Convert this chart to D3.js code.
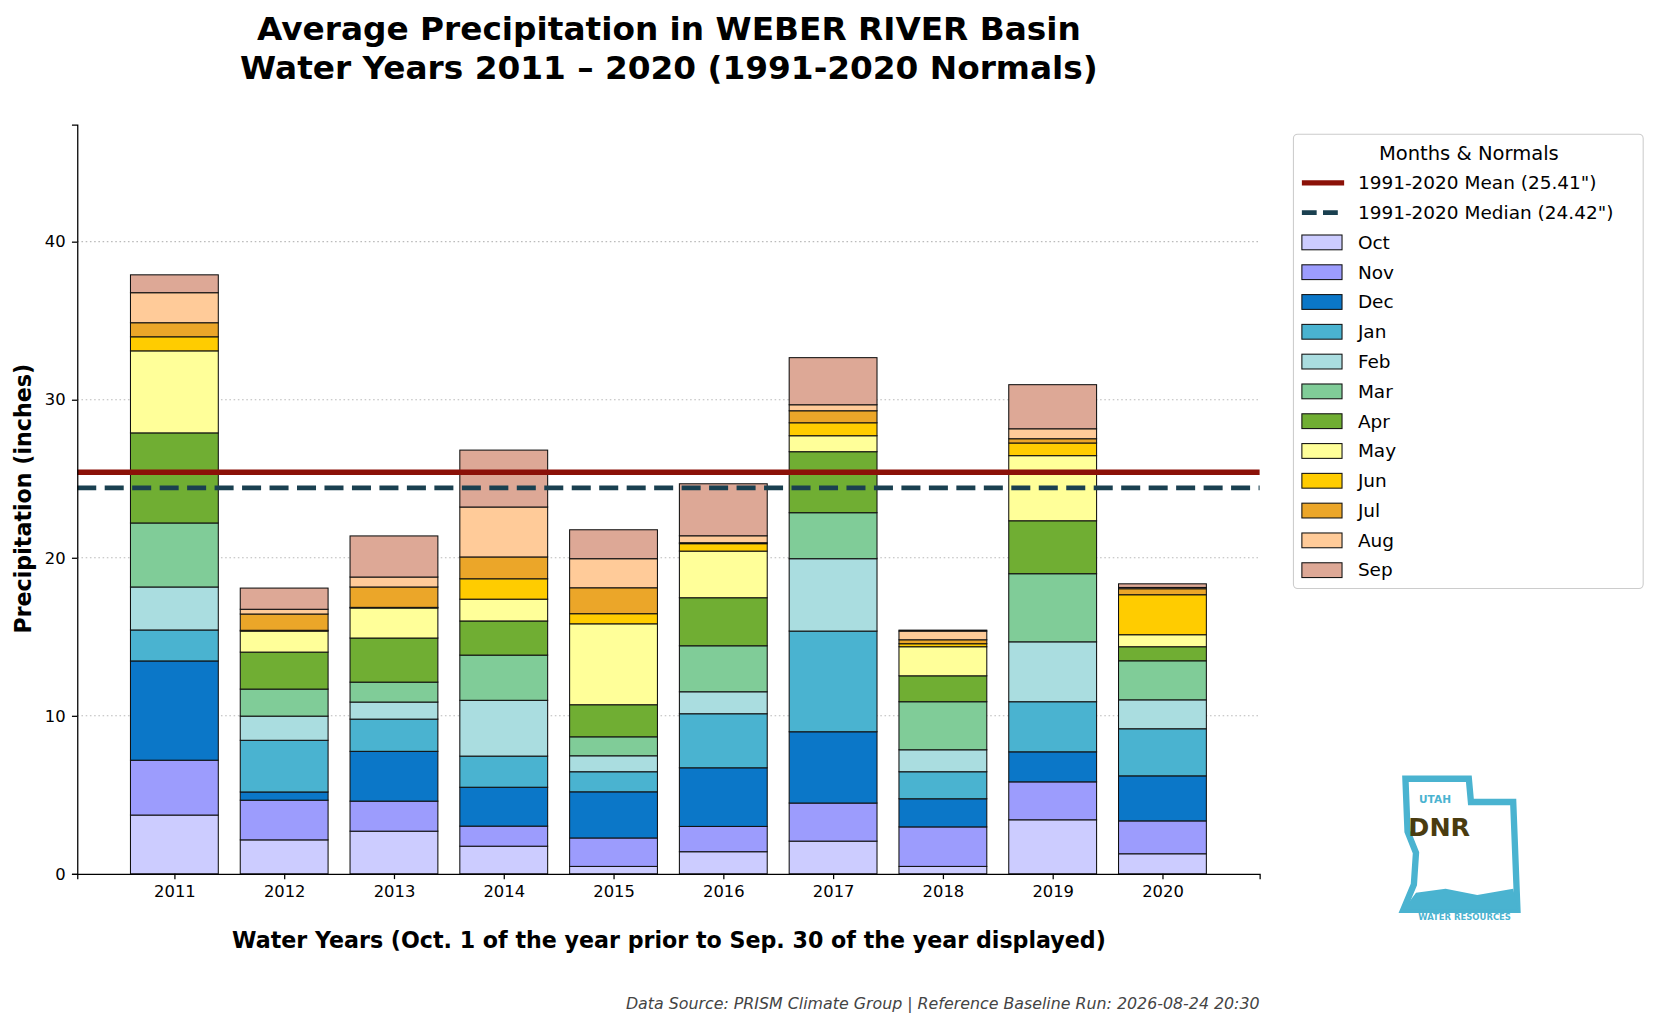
<!DOCTYPE html>
<html><head><meta charset="utf-8">
<script src="https://cdn.jsdelivr.net/npm/d3@7"></script>
<style>
body{margin:0;background:#fff;font-family:"DejaVu Sans",sans-serif;overflow:hidden;}
svg{display:block;}
</style></head>
<body><svg width="1657" height="1026" viewBox="0 0 1568 971"></svg>
<script>
const years = ['2011','2012','2013','2014','2015','2016','2017','2018','2019','2020'];
const months = ['Oct','Nov','Dec','Jan','Feb','Mar','Apr','May','Jun','Jul','Aug','Sep'];
const colors = ['#ccccff','#9c9cfd','#0b77c8','#4ab3d0','#aadde0','#80cc98','#70ae33','#ffff99','#ffcc00','#eba629','#ffcb99','#dda896'];
// monthly precipitation per year, Oct..Sep
const precip = [
  [3.72,3.47,6.28,1.96,2.72,4.05,5.7,5.19,0.89,0.89,1.9,1.13],
  [2.15,2.51,0.52,3.27,1.53,1.71,2.34,1.33,0.05,1.03,0.30,1.34],
  [2.7,1.9,3.15,2.04,1.08,1.26,2.79,1.9,0.04,1.29,0.63,2.6],
  [1.75,1.27,2.46,1.97,3.53,2.86,2.16,1.38,1.29,1.38,3.16,3.6],
  [0.47,1.8,2.92,1.27,1.01,1.2,2.03,5.12,0.64,1.64,1.84,1.83],
  [1.4,1.6,3.71,3.42,1.39,2.91,3.04,2.95,0.47,0.06,0.44,3.29],
  [2.07,2.41,4.51,6.37,4.58,2.91,3.86,1.01,0.82,0.76,0.38,2.98],
  [0.47,2.5,1.78,1.71,1.39,3.04,1.64,1.84,0.19,0.25,0.55,0.06],
  [3.42,2.4,1.9,3.17,3.79,4.31,3.35,4.12,0.8,0.27,0.63,2.79],
  [1.27,2.08,2.85,2.98,1.83,2.47,0.89,0.76,2.53,0.38,0.08,0.23]
];
const normalMean = 25.41;
const normalMedian = 24.42;
const yTicks = [0,10,20,30,40];

const svg = d3.select('svg');
const margin = {top:118, right:376, bottom:144, left:73};
const innerWidth = 1568 - margin.left - margin.right;
const innerHeight = 971 - margin.top - margin.bottom;

const xScale = d3.scaleLinear().domain([-0.885, 9.885]).range([0, innerWidth]);
const yScale = d3.scaleLinear().domain([0, 47.4]).range([innerHeight, 0]);
const barW = xScale(0.8) - xScale(0);

const g = svg.append('g').attr('transform', `translate(${margin.left},${margin.top})`);

// grid
g.selectAll('.grid').data(yTicks.slice(1)).enter().append('line')
  .attr('x1', 0).attr('x2', innerWidth)
  .attr('y1', d => yScale(d)).attr('y2', d => yScale(d))
  .attr('stroke', '#bbb').attr('stroke-width', 1).attr('stroke-dasharray', '1.5,2.5');

// stacks
years.forEach((yr, i) => {
  let acc = 0;
  precip[i].forEach((v, m) => {
    g.append('rect')
      .attr('x', xScale(i) - barW / 2)
      .attr('width', barW)
      .attr('y', yScale(acc + v))
      .attr('height', yScale(acc) - yScale(acc + v))
      .attr('fill', colors[m])
      .attr('stroke', '#111').attr('stroke-width', 1);
    acc += v;
  });
});

g.append('line').attr('x1', 0).attr('x2', innerWidth)
  .attr('y1', yScale(normalMean)).attr('y2', yScale(normalMean))
  .attr('stroke', '#8b1108').attr('stroke-width', 5);
g.append('line').attr('x1', 0).attr('x2', innerWidth)
  .attr('y1', yScale(normalMedian)).attr('y2', yScale(normalMedian))
  .attr('stroke', '#1a4050').attr('stroke-width', 4.5).attr('stroke-dasharray', '18,8');

// axes
const xAxisG = g.append('g').attr('transform', `translate(0,${innerHeight})`)
  .call(d3.axisBottom(xScale).tickValues(d3.range(10)).tickFormat(i => years[i]).tickSize(5).tickPadding(6));
const yAxisG = g.append('g')
  .call(d3.axisLeft(yScale).tickValues(yTicks).tickSize(5).tickPadding(6));
[xAxisG, yAxisG].forEach(a => {
  a.selectAll('text').attr('font-size', 15.5).attr('font-family', '"DejaVu Sans",sans-serif').attr('fill', '#000');
  a.selectAll('line,path').attr('stroke', '#000').attr('stroke-width', 1.2);
});

// titles
svg.append('text').attr('x', 633).attr('y', 38).attr('text-anchor', 'middle')
  .attr('font-size', 31).attr('font-weight', 'bold').text('Average Precipitation in WEBER RIVER Basin');
svg.append('text').attr('x', 633).attr('y', 75).attr('text-anchor', 'middle')
  .attr('font-size', 31).attr('font-weight', 'bold').text('Water Years 2011 – 2020 (1991-2020 Normals)');
svg.append('text').attr('transform', 'translate(29,472) rotate(-90)').attr('text-anchor', 'middle')
  .attr('font-size', 21).attr('font-weight', 'bold').text('Precipitation (inches)');
svg.append('text').attr('x', 633).attr('y', 897).attr('text-anchor', 'middle')
  .attr('font-size', 21).attr('font-weight', 'bold')
  .text('Water Years (Oct. 1 of the year prior to Sep. 30 of the year displayed)');
svg.append('text').attr('x', 1192).attr('y', 955).attr('text-anchor', 'end')
  .attr('font-size', 15).attr('font-style', 'italic').attr('fill', '#444')
  .text('Data Source: PRISM Climate Group | Reference Baseline Run: 2026-08-24 20:30');

// legend
const lg = svg.append('g').attr('transform', 'translate(1224,127)');
lg.append('rect').attr('width', 331).attr('height', 430).attr('rx', 4)
  .attr('fill', '#fff').attr('stroke', '#ccc');
lg.append('text').attr('x', 166).attr('y', 24).attr('text-anchor', 'middle').attr('font-size', 18.5).text('Months & Normals');
const rowY = k => 46 + k * 28.2;
lg.append('line').attr('x1', 8).attr('x2', 48).attr('y1', rowY(0)).attr('y2', rowY(0)).attr('stroke', '#8b1108').attr('stroke-width', 5);
lg.append('line').attr('x1', 8).attr('x2', 48).attr('y1', rowY(1)).attr('y2', rowY(1)).attr('stroke', '#1a4050').attr('stroke-width', 4.5).attr('stroke-dasharray', '14,6');
lg.append('text').attr('x', 61).attr('y', rowY(0) + 6).attr('font-size', 17.5).text(`1991-2020 Mean (${normalMean}")`);
lg.append('text').attr('x', 61).attr('y', rowY(1) + 6).attr('font-size', 17.5).text(`1991-2020 Median (${normalMedian}")`);
months.forEach((m, k) => {
  const y = rowY(k + 2);
  lg.append('rect').attr('x', 8).attr('y', y - 7).attr('width', 38).attr('height', 14)
    .attr('fill', colors[k]).attr('stroke', '#111');
  lg.append('text').attr('x', 61).attr('y', y + 6).attr('font-size', 17.5).text(m);
});

// logo
const logo = svg.append('g').attr('transform', 'translate(1328,737)');
logo.append('path').attr('d', 'M2,0 L62,0 L64,22 L104,22 L108,124 L0,124 L10,100 L12,70 L4,50 Z')
  .attr('fill', 'none').attr('stroke', '#4ab3d0').attr('stroke-width', 6);
logo.append('path').attr('d', 'M0,124 L12,108 L40,104 L70,110 L104,104 L108,124 Z').attr('fill', '#4ab3d0');
logo.append('text').attr('x', 30).attr('y', 23).attr('text-anchor', 'middle').attr('font-size', 10)
  .attr('font-weight', 'bold').attr('fill', '#4ab3d0').text('UTAH');
logo.append('text').attr('x', 34).attr('y', 54).attr('text-anchor', 'middle').attr('font-size', 24)
  .attr('font-weight', 'bold').attr('fill', '#4a3c10').text('DNR');
logo.append('text').attr('x', 58).attr('y', 134).attr('text-anchor', 'middle').attr('font-size', 8)
  .attr('font-weight', 'bold').attr('fill', '#4ab3d0').text('WATER RESOURCES');
</script></body></html>
